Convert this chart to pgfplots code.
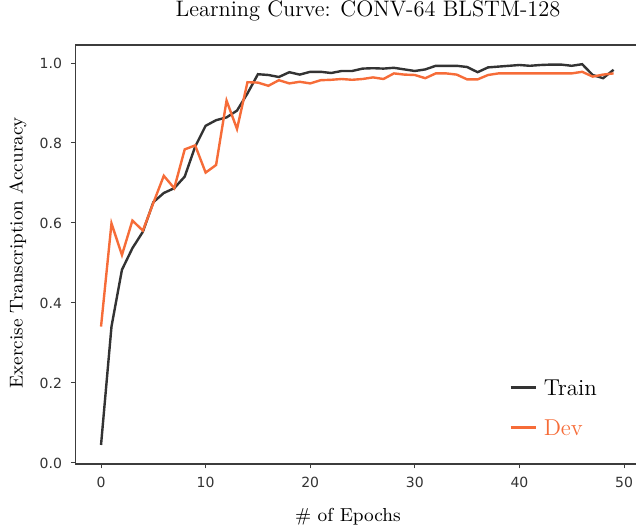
\documentclass[border=0pt]{standalone}
\usepackage{fontspec}
\usepackage{xcolor}
\usepackage{pgfplots}
\pgfplotsset{compat=1.18}
\newfontfamily\tickfont{DejaVu Sans}
\definecolor{trainc}{RGB}{51,51,51}
\definecolor{devc}{RGB}{246,108,56}
\definecolor{spine}{RGB}{60,60,60}

\pgfplotstableread{
epoch acc
0 0.045
1 0.341
2 0.483
3 0.537
4 0.578
5 0.652
6 0.675
7 0.687
8 0.716
9 0.791
10 0.843
11 0.857
12 0.864
13 0.881
14 0.924
15 0.972
16 0.970
17 0.965
18 0.977
19 0.971
20 0.978
21 0.978
22 0.975
23 0.980
24 0.980
25 0.986
26 0.987
27 0.986
28 0.988
29 0.984
30 0.980
31 0.984
32 0.993
33 0.993
34 0.993
35 0.990
36 0.977
37 0.989
38 0.991
39 0.993
40 0.995
41 0.993
42 0.995
43 0.996
44 0.996
45 0.993
46 0.997
47 0.970
48 0.962
49 0.983
}\traindata

\pgfplotstableread{
epoch acc
0 0.341
1 0.599
2 0.520
3 0.606
4 0.581
5 0.650
6 0.718
7 0.687
8 0.784
9 0.794
10 0.726
11 0.745
12 0.906
13 0.835
14 0.952
15 0.951
16 0.943
17 0.957
18 0.949
19 0.953
20 0.949
21 0.957
22 0.958
23 0.960
24 0.958
25 0.960
26 0.964
27 0.960
28 0.974
29 0.971
30 0.970
31 0.962
32 0.974
33 0.974
34 0.971
35 0.959
36 0.959
37 0.970
38 0.974
39 0.974
40 0.974
41 0.974
42 0.974
43 0.974
44 0.974
45 0.974
46 0.978
47 0.966
48 0.971
49 0.974
}\devdata

\begin{document}
\begin{tikzpicture}
\begin{axis}[
    scale only axis,
    width=281.9pt, height=209.5pt,
    xmin=-2.45, xmax=51.45,
    ymin=-0.0026, ymax=1.045,
    xtick={0,10,20,30,40,50},
    ytick={0,0.2,0.4,0.6,0.8,1.0},
    yticklabel style={/pgf/number format/fixed, /pgf/number format/fixed zerofill, /pgf/number format/precision=1},
    /pgf/number format/assume math mode=true,
    tick label style={font=\tickfont\fontsize{7}{8}\selectfont, text=black!80},
    xticklabel style={anchor=north, inner sep=0pt, yshift=-4.2pt},
    yticklabel style={anchor=east, inner sep=0pt, xshift=-4.3pt},
    xtick pos=bottom, ytick pos=left,
    tick align=outside,
    major tick length=2.2pt,
    every tick/.style={spine, line width=0.5pt},
    axis line style={spine, line width=0.6pt},
    title={Learning Curve: CONV-64 BLSTM-128},
    title style={font=\fontsize{11.2}{13}\selectfont, at={(rel axis cs:0.519,1)}, anchor=base, yshift=8.5pt, inner sep=0pt},
    xlabel={\# of Epochs},
    xlabel style={font=\fontsize{9.4}{11}\selectfont, at={(rel axis cs:0.4835,0)}, anchor=base, yshift=-28.5pt, inner sep=0pt},
    ylabel={Exercise Transcription Accuracy},
    ylabel style={font=\fontsize{9.3}{11}\selectfont, at={(rel axis cs:0,0.504)}, anchor=base, yshift=26.35pt, inner sep=0pt},
    legend style={draw=none, fill=none, at={(rel axis cs:0.769,0.0595)}, anchor=south west, inner sep=0pt, row sep=10.5pt, column sep=3.5pt, nodes={inner sep=0pt}, font=\fontsize{11.5}{13}\selectfont},
    legend cell align=left,
    legend image code/.code={\draw[#1] (0pt,1pt) -- (12.5pt,1pt);},
]
\addplot[trainc, line width=1.2pt] table[x=epoch, y=acc] {\traindata};
\addlegendentry{Train}
\addplot[devc, line width=1.2pt] table[x=epoch, y=acc] {\devdata};
\addlegendentry{\textcolor{devc}{Dev}}
\end{axis}
\pgfresetboundingbox
\path[use as bounding box] (-37.7pt,-30.5pt) rectangle (280.3pt,232pt);
\end{tikzpicture}
\end{document}
